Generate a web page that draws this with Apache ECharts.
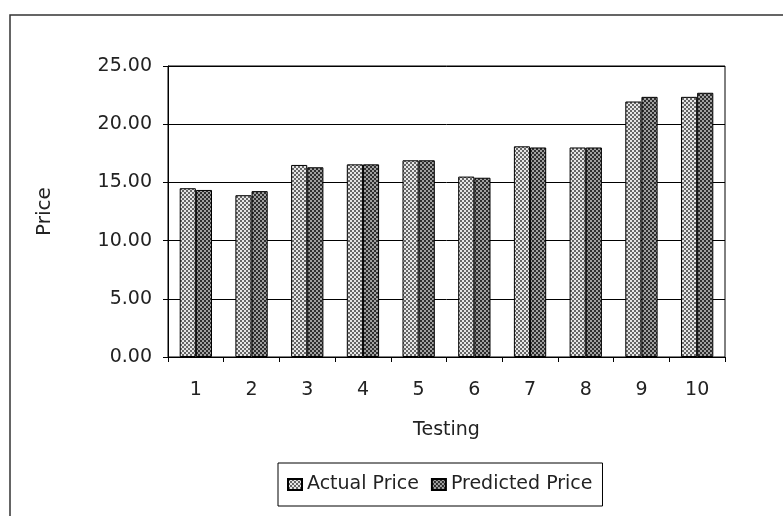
<!DOCTYPE html>
<html><head><meta charset="utf-8">
<script src="https://cdn.jsdelivr.net/npm/echarts@6/dist/echarts.min.js"></script>
<style>html,body{margin:0;padding:0;background:#fff}#c{width:783px;height:516px}</style>
</head><body><div id="c"></div>
<script>
const categories = ['1','2','3','4','5','6','7','8','9','10'];
const actualPrice = [14.5, 13.9, 16.5, 16.55, 16.9, 15.5, 18.1, 18.0, 21.95, 22.35];
const predictedPrice = [14.35, 14.25, 16.3, 16.55, 16.9, 15.4, 18.0, 18.0, 22.35, 22.7];
const seriesNames = ['Actual Price', 'Predicted Price'];

function pattern(dark, light) {
  const c = document.createElement('canvas');
  c.width = 4; c.height = 4;
  const g = c.getContext('2d');
  g.fillStyle = light; g.fillRect(0,0,4,4);
  g.fillStyle = dark;
  g.fillRect(0,0,2,2); g.fillRect(2,2,2,2);
  return c;
}
const actualFill = {image: pattern('#666666', '#e6e6e6'), repeat: 'repeat'};
const predFill = {image: pattern('#2e2e2e', '#a0a0a0'), repeat: 'repeat'};

const font = '"DejaVu Sans", sans-serif';
const chart = echarts.init(document.getElementById('c'), null, {renderer: 'canvas'});
chart.setOption({
  backgroundColor: '#fff',
  animation: false,
  graphic: [{
    type: 'rect', shape: {x: 10, y: 15, width: 790, height: 520},
    style: {fill: 'none', stroke: '#333', lineWidth: 1.5}, z: -1
  }],
  grid: {left: 168, right: 58, top: 66, bottom: 159, show: true, borderColor: '#000', borderWidth: 1, backgroundColor: 'transparent'},
  legend: {
    data: seriesNames, top: 463, left: 278,
    borderColor: '#000', borderWidth: 1, padding: [12, 10, 12, 9],
    itemWidth: 14, itemHeight: 11, itemGap: 12,
    icon: 'rect',
    textStyle: {fontFamily: font, fontSize: 19, color: '#222'}
  },
  xAxis: {
    type: 'category', data: categories,
    name: 'Testing', nameLocation: 'middle', nameGap: 64,
    nameTextStyle: {fontFamily: font, fontSize: 19, color: '#222'},
    axisLine: {lineStyle: {color: '#000', width: 1}},
    axisTick: {show: true, alignWithLabel: false, length: 5, lineStyle: {color: '#000'}},
    axisLabel: {fontFamily: font, fontSize: 19, color: '#222', margin: 24}
  },
  yAxis: {
    type: 'value', min: 0, max: 25, interval: 5,
    name: 'Price', nameLocation: 'middle', nameGap: 113, nameRotate: 90,
    nameTextStyle: {fontFamily: font, fontSize: 20, color: '#222'},
    axisLine: {show: true, lineStyle: {color: '#000'}},
    axisTick: {show: true, length: 5, lineStyle: {color: '#000'}},
    splitLine: {lineStyle: {color: '#000', width: 1}},
    axisLabel: {fontFamily: font, fontSize: 19, color: '#222', margin: 16,
      formatter: v => v.toFixed(2)}
  },
  series: [
    {name: seriesNames[0], type: 'bar', data: actualPrice, barWidth: '29%', barGap: '0%',
     itemStyle: {color: actualFill, borderColor: '#000', borderWidth: 1}},
    {name: seriesNames[1], type: 'bar', data: predictedPrice, barWidth: '29%', barGap: '0%',
     itemStyle: {color: predFill, borderColor: '#000', borderWidth: 1}}
  ]
});
</script></body></html>
